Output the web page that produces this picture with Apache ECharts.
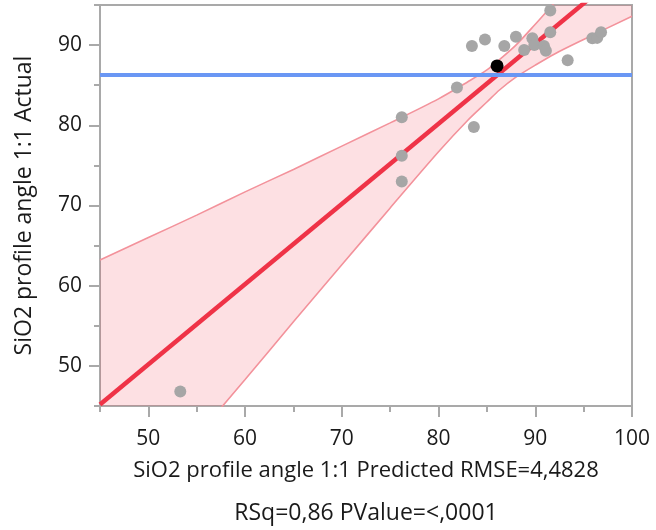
<!DOCTYPE html>
<html>
<head>
<meta charset="utf-8">
<title>SiO2 profile angle 1:1 Actual by Predicted</title>
<script src="https://cdn.jsdelivr.net/npm/echarts@6/dist/echarts.min.js"></script>
<style>
  html, body { margin: 0; padding: 0; background: #ffffff; }
  #chart { width: 656px; height: 530px; }
</style>
</head>
<body>
<div id="chart"></div>
<script>
// observed points (predicted, actual)
var predX = [53.3, 76.2, 76.2, 76.2, 81.9, 83.65, 83.45, 84.8, 86.8, 88.0, 88.85, 89.7, 89.9, 90.9, 91.1, 91.55, 91.55, 93.35, 95.9, 96.4, 96.8];
var actY  = [46.8, 81.0, 76.2, 73.0, 84.7, 79.8, 89.9, 90.7, 89.9, 91.05, 89.4, 90.85, 90.0, 89.9, 89.3, 91.6, 94.3, 88.1, 90.85, 90.9, 91.6];
// highlighted row
var selX = [86.05];
var selY = [87.4];

// fit line and mean of actual
var fitX = [45, 100];
var fitY = [45.2, 100.2];
var meanActual = 86.3;

// confidence band
var bandX    = [45, 50, 55, 60, 65, 70, 75, 80, 83, 85, 86.3, 88, 90, 92, 95, 100];
var bandLow  = [26.8, 34.0, 41.2, 48.3, 55.5, 62.6, 69.7, 76.7, 80.6, 82.9, 84.4, 86.0, 87.5, 88.9, 90.7, 93.6];
var bandHigh = [63.2, 66.0, 68.8, 71.7, 74.5, 77.4, 80.3, 83.3, 85.4, 86.9, 88.2, 90.0, 92.6, 95.3, 99.3, 106.3];

var xMajor = [50, 60, 70, 80, 90, 100];
var xMinor = [45, 55, 65, 75, 85, 95];
var yMajor = [50, 60, 70, 80, 90];
var yMinor = [45, 55, 65, 75, 85, 95];

var pts = [], sel = [], fit = [], low = [], high = [];
for (var i = 0; i < predX.length; i++) pts.push([predX[i], actY[i]]);
for (var i = 0; i < selX.length; i++) sel.push([selX[i], selY[i]]);
for (var i = 0; i < fitX.length; i++) fit.push([fitX[i], fitY[i]]);
for (var i = 0; i < bandX.length; i++) {
    low.push([bandX[i], bandLow[i]]);
    high.push([bandX[i], bandHigh[i]]);
}

var axisGray = '#a9a9a9';
var edgeColor = '#f3929b';
var font = 'Open Sans';

var myChart = echarts.init(document.getElementById('chart'));
var option = {
    animation: false,
    textStyle: { fontFamily: font },
    grid: {
        left: 100, right: 24, top: 5, bottom: 124,
        outerBoundsMode: 'none',
        show: true, borderColor: axisGray, borderWidth: 2, backgroundColor: 'transparent'
    },
    xAxis: [{
        type: 'value', min: 45, max: 100, position: 'bottom',
        axisLine: { show: true, lineStyle: { color: axisGray, width: 2 } },
        axisTick: { show: true, length: 11, customValues: xMajor, lineStyle: { color: axisGray, width: 2 } },
        axisLabel: { customValues: xMajor, margin: 23, fontSize: 21, color: '#1a1a1a', fontFamily: font },
        splitLine: { show: false },
        name: '{a|SiO2 profile angle 1:1 Predicted RMSE=4,4828}\n{b|RSq=0,86 PValue=<,0001}',
        nameLocation: 'middle', nameGap: 44,
        nameTextStyle: {
            color: '#1a1a1a', fontFamily: font,
            rich: {
                a: { fontSize: 22, lineHeight: 42, color: '#1a1a1a', fontFamily: font },
                b: { fontSize: 23, lineHeight: 42, color: '#1a1a1a', fontFamily: font }
            }
        }
    }, {
        type: 'value', min: 45, max: 100, position: 'bottom',
        axisLine: { show: false },
        axisTick: { show: true, length: 6, customValues: xMinor, lineStyle: { color: axisGray, width: 2 } },
        axisLabel: { show: false },
        splitLine: { show: false }
    }],
    yAxis: [{
        type: 'value', min: 45, max: 95, position: 'left',
        axisLine: { show: true, lineStyle: { color: axisGray, width: 2 } },
        axisTick: { show: true, length: 11, customValues: yMajor, lineStyle: { color: axisGray, width: 2 } },
        axisLabel: { customValues: yMajor, margin: 18, fontSize: 21, color: '#1a1a1a', fontFamily: font },
        splitLine: { show: false },
        name: 'SiO2 profile angle 1:1 Actual',
        nameLocation: 'middle', nameGap: 64,
        nameTextStyle: { fontSize: 23, color: '#1a1a1a', fontFamily: font }
    }, {
        type: 'value', min: 45, max: 95, position: 'left',
        axisLine: { show: false },
        axisTick: { show: true, length: 6, customValues: yMinor, lineStyle: { color: axisGray, width: 2 } },
        axisLabel: { show: false },
        splitLine: { show: false }
    }],
    series: [
        {
            name: 'Mean', type: 'line', data: [], z: 1,
            markLine: {
                silent: true, symbol: 'none', label: { show: false },
                lineStyle: { color: '#6a97f4', width: 4, type: 'solid' },
                data: [{ yAxis: meanActual }]
            }
        },
        {
            // band fill between the two confidence curves
            name: 'Band', type: 'custom', z: 2, silent: true, clip: true,
            data: [[bandX[0], bandHigh[0]]],
            renderItem: function (params, api) {
                var poly = [];
                for (var i = 0; i < bandX.length; i++) poly.push(api.coord([bandX[i], bandHigh[i]]));
                for (var j = bandX.length - 1; j >= 0; j--) poly.push(api.coord([bandX[j], bandLow[j]]));
                return {
                    type: 'polygon',
                    shape: { points: poly },
                    style: { fill: 'rgba(240,60,80,0.16)', stroke: null }
                };
            }
        },
        {
            name: 'Lower', type: 'line', data: low, z: 2,
            smooth: 0.3, symbol: 'none',
            lineStyle: { color: edgeColor, width: 1.6 }
        },
        {
            name: 'Upper', type: 'line', data: high, z: 2,
            smooth: 0.3, symbol: 'none',
            lineStyle: { color: edgeColor, width: 1.6 }
        },
        {
            name: 'Fit', type: 'line', data: fit, z: 3,
            symbol: 'none',
            lineStyle: { color: '#ef3347', width: 4.5 }
        },
        {
            name: 'Rows', type: 'scatter', data: pts, z: 4,
            symbolSize: 12,
            itemStyle: { color: '#a6a6a6', opacity: 1 }
        },
        {
            name: 'Selected', type: 'scatter', data: sel, z: 5,
            symbolSize: 13,
            itemStyle: { color: '#000000', opacity: 1 }
        }
    ]
};
myChart.setOption(option);
</script>
</body>
</html>
